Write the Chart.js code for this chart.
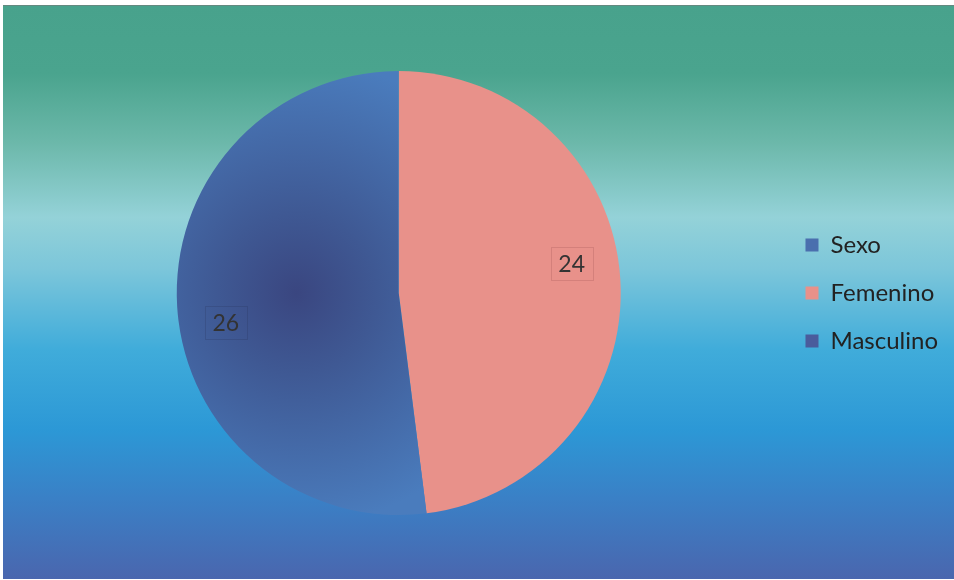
<!DOCTYPE html>
<html><head><meta charset="utf-8">
<script src="https://cdn.jsdelivr.net/npm/chart.js@4"></script>
<style>html,body{margin:0;padding:0;background:#fff;}#wrap{width:954px;height:580px;}</style>
</head><body><div id="wrap"><canvas id="c" width="954" height="580"></canvas></div>
<script>
const seriesName = "Sexo";
const categories = ["Femenino", "Masculino"];
const values = [24, 26];
const legendLabels = ["Sexo", "Femenino", "Masculino"];

const colFem = "#e8918a";
const colMasEdge = "#4a7cbd";
const colMasCenter = "#3a4680";

const bgPlugin = {
  id: 'bg',
  beforeDraw(chart) {
    const ctx = chart.ctx;
    const W = chart.width, H = chart.height;
    ctx.save();
    ctx.fillStyle = '#fff';
    ctx.fillRect(0,0,W,H);
    const top = 5, bot = 579;
    const g = ctx.createLinearGradient(0, top, 0, bot);
    g.addColorStop(0.00, '#48a28c');
    g.addColorStop(0.12, '#4aa48e');
    g.addColorStop(0.24, '#6cb8aa');
    g.addColorStop(0.37, '#94d2d8');
    g.addColorStop(0.46, '#7cc6da');
    g.addColorStop(0.60, '#40acda');
    g.addColorStop(0.74, '#2c98d6');
    g.addColorStop(0.86, '#3a80c6');
    g.addColorStop(1.00, '#4a66ae');
    ctx.fillStyle = g;
    ctx.fillRect(3, top, W - 3, bot - top);
    ctx.strokeStyle = 'rgba(120,120,120,0.6)';
    ctx.lineWidth = 1;
    ctx.beginPath(); ctx.moveTo(3, top + 0.5); ctx.lineTo(W, top + 0.5); ctx.stroke();
    ctx.restore();
  }
};

const labelPlugin = {
  id: 'vals',
  afterDatasetsDraw(chart) {
    const ctx = chart.ctx;
    const meta = chart.getDatasetMeta(0);
    ctx.save();
    ctx.font = '23px Lato, "Open Sans", sans-serif';
    ctx.textAlign = 'center';
    ctx.textBaseline = 'middle';
    meta.data.forEach((arc, i) => {
      const p = arc.getProps(['x','y','startAngle','endAngle','outerRadius'], true);
      const mid = (p.startAngle + p.endAngle) / 2 - 6 * Math.PI / 180;
      const r = p.outerRadius * 0.79;
      const x = p.x + Math.cos(mid) * r;
      const y = p.y + Math.sin(mid) * r;
      const txt = String(values[i]);
      const w = 42, h = 33;
      ctx.strokeStyle = i === 0 ? 'rgba(150,80,80,0.25)' : 'rgba(40,50,90,0.25)';
      ctx.lineWidth = 1;
      ctx.strokeRect(Math.round(x - w/2) + 0.5, Math.round(y - h/2) + 0.5, w, h);
      ctx.fillStyle = '#333';
      ctx.fillText(txt, x, y + 1);
    });
    ctx.restore();
  }
};

function sliceFill(context) {
  if (context.dataIndex === 0) return colFem;
  const chart = context.chart;
  const a = chart.chartArea;
  if (!a) return colMasEdge;
  const R = Math.min(a.right - a.left, a.bottom - a.top) / 2;
  const pcx = (a.left + a.right) / 2, pcy = (a.top + a.bottom) / 2;
  const cx = pcx - R * 0.46, cy = pcy;
  const g = chart.ctx.createRadialGradient(cx, cy, 0, cx, cy, R * 1.05);
  g.addColorStop(0, colMasCenter);
  g.addColorStop(0.35, '#3f5994');
  g.addColorStop(1, colMasEdge);
  return g;
}

new Chart(document.getElementById('c'), {
  type: 'pie',
  data: {
    labels: categories,
    datasets: [{
      label: seriesName,
      data: values,
      backgroundColor: sliceFill,
      borderWidth: 0
    }]
  },
  options: {
    responsive: false,
    animation: false,
    layout: { padding: { top: 71, bottom: 65, left: 16, right: 6 } },
    plugins: {
      tooltip: { enabled: false },
      legend: {
        position: 'right',
        labels: {
          font: { size: 24, family: 'Lato, "Open Sans", sans-serif' },
          color: '#222',
          boxWidth: 13,
          boxHeight: 13,
          padding: 24,
          generateLabels(chart) {
            const cols = ['#4a6fae', colFem, '#4a5c9c'];
            return legendLabels.map((t, i) => ({
              text: t, fillStyle: cols[i], strokeStyle: cols[i], lineWidth: 0,
              hidden: false, index: i, fontColor: '#222'
            }));
          }
        },
        onClick() {}
      }
    }
  },
  plugins: [bgPlugin, labelPlugin]
});
</script></body></html>
